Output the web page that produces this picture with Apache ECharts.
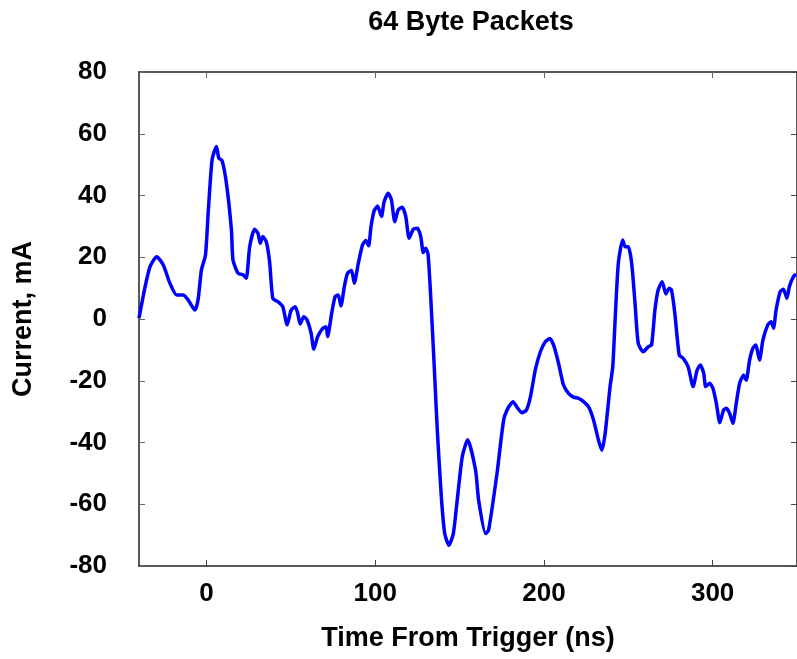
<!DOCTYPE html>
<html>
<head>
<meta charset="utf-8">
<title>64 Byte Packets</title>
<script src="https://cdn.jsdelivr.net/npm/echarts@6/dist/echarts.min.js"></script>
<style>
  html, body { margin: 0; padding: 0; background: #fff; }
  #chart { width: 797px; height: 659px; }
</style>
</head>
<body>
<div id="chart"></div>
<script>
// Supply current trace for 64-byte packets, time relative to trigger.
const timeNs = [
  -40, -36.4, -33.5, -29.5, -25.6, -21.7, -17.7, -13.8, -10.9, -6.9, -5, -3, -0.6,
  1, 3.3, 5.9, 7.3, 9.2, 11.8, 14.8, 15.7, 18.7, 21.6, 23.6, 25.6, 28.5, 30.5,
  31.9, 33.4, 35.4, 37.4, 39.3, 42.3, 45.2, 47.8, 50.2, 52.6, 54.1, 55.5, 57.7,
  59.6, 62, 63.6, 65.9, 68.9, 70.9, 71.8, 74.2, 76.2, 78.1, 79.7, 81.7, 83.6,
  86, 87.6, 90, 92.5, 94.5, 96.1, 97.5, 99.4, 101.4, 103.7, 105.3, 107.7, 109.6,
  111.6, 113.6, 116.1, 118.1, 120.1, 122.6, 125, 127, 128.5, 129.9, 131.3,
  132.9, 134.9, 136.8, 139.2, 141.2, 143.7, 146.3, 148.6, 151.6, 154.8, 159.5,
  161.3, 165.4, 167.2, 172.2, 176.2, 179.2, 181.7, 184.1, 187, 189.6, 192,
  194.9, 197.9, 200.8, 203.4, 205.7, 208.7, 211.6, 214.6, 217.5, 220.5, 222.4,
  226.4, 229.4, 232.3, 234.3, 236.3, 239.2, 240.8, 242.2, 244.1, 246.7, 248.1,
  250, 252, 254, 255.9, 258.9, 261.8, 263.8, 265.8, 267.7, 270.1, 272.3, 274.2,
  275.6, 277.6, 280.2, 282.5, 285.5, 288.4, 290.8, 292.7, 294.7, 295.9, 298.2,
  300.2, 302.2, 304.2, 306.5, 308.1, 310.1, 312, 314, 316, 318.4, 319.9, 321.9,
  323.8, 325.5, 327.8, 329.8, 332.7, 334.7, 336.1, 337.6, 340, 342, 344, 345.5,
  347.9, 349.5
];
const currentMa = [
  0.3, 10.4, 16.9, 20.2, 17.5, 11.6, 7.8, 7.8, 6.2, 2.9, 6.2, 15.9, 20.7,
  34.3, 51.5, 55.9, 52.1, 51.3, 44, 28.8, 19.1, 14.8, 14.3, 13.2, 23.4, 29.1, 27.8,
  24.5, 26.7, 25.1, 18.6, 6.7, 5.6, 4.0, -1.9, 2.9, 4.0, 1.8, -1.6, 0.7,
  -0.3, -4.6, -9.8, -5.7, -3.0, -2.5, -5.7, 1.8, 7.2, 7.8, 4.2, 10.5, 14.8,
  15.7, 11.6, 18.1, 24, 25.4, 23.7, 29.9, 35.1, 36.6, 33.2, 38, 40.7, 38.6,
  31.5, 35.3, 36.2, 33.2, 26.2, 29.1, 29.4, 26.7, 21.5, 22.9, 21.1,
  7.2, -14.4, -36, -57.6, -69.5, -73.3, -69.5, -58.7, -44.6, -39.1, -49,
  -58.7, -69.5, -68.4, -50, -32.5, -28.4, -26.8, -28.6, -30.4, -29.5, -25.2,
  -16.5, -10.6, -7.4, -6.3, -8.4, -14.4, -21.4, -24.1, -25.3, -25.7, -26.3,
  -28.4, -32.7, -39.2, -42.5, -37, -21.9, -15.5, -0.3, 18.1, 25.6, 23.4,
  23.4, 18.1, 5.1, -7.9, -10.6, -9, -8.4, 2.9, 9.4, 12.1, 8.1, 10,
  9.4, 1.8, -11.7, -12.7, -15.5, -21.9, -16.5, -14.9, -17.6, -21.9, -20.8,
  -22.5, -27.3, -33.6, -29.5, -28.9, -30.6, -33.8, -27.3, -20.8, -18.2, -19.8, -13.3,
  -9.5, -8.4, -13.3, -6.8, -1.9, -0.9, -3.0, 2.9, 8.8, 9.6, 6.7, 10.5,
  13.7, 14.5
];
const xTicks = [0, 100, 200, 300];

const FONT = '"Liberation Sans", Arial, Helvetica, sans-serif';
const frame = { show: true, onZero: false, lineStyle: { color: '#222', width: 1.5 } };

const chart = echarts.init(document.getElementById('chart'), null, { renderer: 'canvas' });
chart.setOption({
  backgroundColor: '#ffffff',
  animation: false,
  title: {
    text: '64 Byte Packets',
    left: 466, top: 4, textAlign: 'center',
    textStyle: { fontFamily: FONT, fontWeight: 'bold', fontSize: 27, color: '#000' }
  },
  grid: { left: 139, top: 72, width: 660, height: 494, containLabel: false },
  xAxis: [
    {
      type: 'value', min: -40, max: 350, position: 'bottom',
      name: 'Time From Trigger (ns)', nameLocation: 'middle', nameGap: 59,
      nameTextStyle: { fontFamily: FONT, fontWeight: 'bold', fontSize: 27, color: '#000' },
      axisLine: frame,
      axisTick: { show: true, inside: true, length: 6, customValues: xTicks, lineStyle: { color: '#444' } },
      axisLabel: { customValues: xTicks, margin: 15, fontFamily: FONT, fontWeight: 'bold', fontSize: 26, color: '#000' },
      splitLine: { show: false }
    },
    {
      type: 'value', min: -40, max: 350, position: 'top',
      axisLine: frame,
      axisTick: { show: true, inside: true, length: 6, customValues: xTicks, lineStyle: { color: '#666' } },
      axisLabel: { show: false },
      splitLine: { show: false }
    }
  ],
  yAxis: [
    {
      type: 'value', min: -80, max: 80, interval: 20, position: 'left',
      name: 'Current, mA', nameLocation: 'middle', nameGap: 102,
      nameTextStyle: { fontFamily: FONT, fontWeight: 'bold', fontSize: 27, color: '#000' },
      axisLine: frame,
      axisTick: { show: true, inside: true, length: 6, lineStyle: { color: '#666' } },
      axisLabel: { margin: 32, fontFamily: FONT, fontWeight: 'bold', fontSize: 26, color: '#000' },
      splitLine: { show: false }
    },
    {
      type: 'value', min: -80, max: 80, interval: 20, position: 'right',
      axisLine: frame,
      axisTick: { show: true, inside: true, length: 6, lineStyle: { color: '#444' } },
      axisLabel: { show: false },
      splitLine: { show: false }
    }
  ],
  series: [{
    type: 'line',
    xAxisIndex: 0, yAxisIndex: 0,
    data: timeNs.map((t, i) => [t, currentMa[i]]),
    showSymbol: false,
    smooth: 0.2,
    clip: true,
    lineStyle: { color: '#0000ff', width: 3.5 }
  }]
});
</script>
</body>
</html>
